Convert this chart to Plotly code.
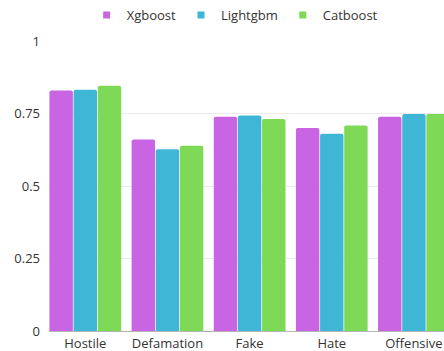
import plotly.graph_objects as go

categories = ["Hostile", "Defamation", "Fake", "Hate", "Offensive"]
xgboost = [0.829, 0.660, 0.739, 0.700, 0.739]
lightgbm = [0.832, 0.627, 0.743, 0.680, 0.748]
catboost = [0.846, 0.639, 0.731, 0.709, 0.748]
y_ticks = [0, 0.25, 0.5, 0.75, 1]
y_tick_labels = ["0", "0.25", "0.5", "0.75", "1"]

colors = {"Xgboost": "#c964e2", "Lightgbm": "#40b6d6", "Catboost": "#7ed957"}
series = [("Xgboost", xgboost), ("Lightgbm", lightgbm), ("Catboost", catboost)]

fig = go.Figure()
for name, vals in series:
    fig.add_trace(go.Bar(x=categories, y=vals, name=name, showlegend=False,
                         marker=dict(color=colors[name], line=dict(width=0))))
# legend entries with small square markers
for name, _ in series:
    fig.add_trace(go.Scatter(x=[None], y=[None], mode="markers", name=name,
                             marker=dict(symbol="square", size=7, color=colors[name])))

fig.update_layout(
    width=444, height=351,
    margin=dict(l=49, r=0, t=34, b=20),
    paper_bgcolor="white", plot_bgcolor="white",
    barmode="group", bargap=0.118, bargroupgap=0.03, barcornerradius=2,
    font=dict(family="Open Sans", size=13, color="#333333"),
    showlegend=True,
    legend=dict(orientation="h", x=0.47, xanchor="center", y=1.09, yanchor="middle",
                font=dict(size=13, color="#333333"), itemwidth=30, traceorder="normal"),
    xaxis=dict(range=[-0.442, 4.366], showgrid=False, showline=False, ticks="",
               ticklabelstandoff=3, tickfont=dict(size=13), automargin=False),
    yaxis=dict(range=[0, 1], tickvals=y_ticks, ticktext=y_tick_labels,
               showgrid=True, gridcolor="#ebebeb", gridwidth=1,
               zeroline=True, zerolinecolor="#b5b5b5", zerolinewidth=1,
               showline=False, ticks="", ticklabelstandoff=8,
               tickfont=dict(size=13), automargin=False),
)

fig.write_html("out.html")
